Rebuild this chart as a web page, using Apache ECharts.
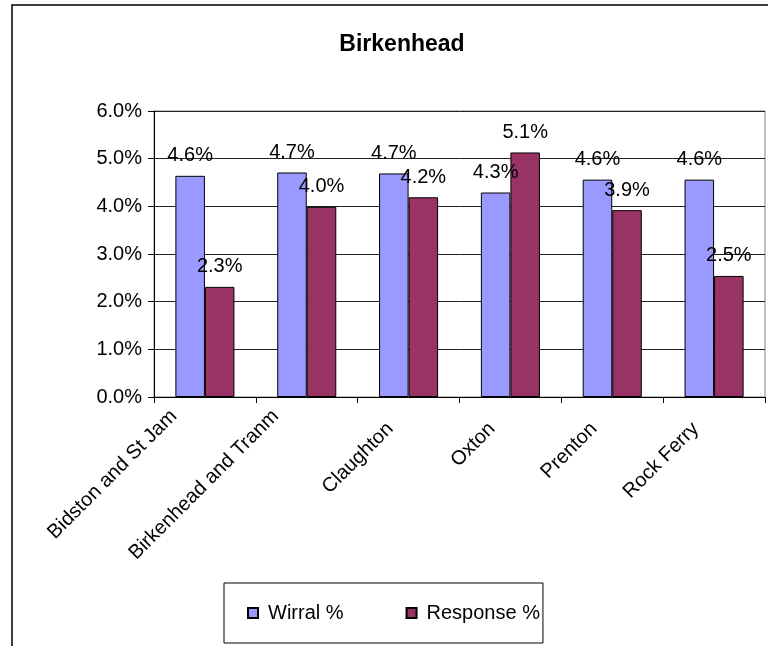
<!DOCTYPE html>
<html>
<head>
<meta charset="utf-8">
<script src="https://cdn.jsdelivr.net/npm/echarts@6/dist/echarts.min.js"></script>
<style>
html,body{margin:0;padding:0;background:#fff;}
#chart{width:768px;height:646px;}
</style>
</head>
<body>
<div id="chart"></div>
<script>
const categories = ['Bidston and St James', 'Birkenhead and Tranmere', 'Claughton', 'Oxton', 'Prenton', 'Rock Ferry'];
const tickLabels = ['Bidston and St Jam', 'Birkenhead and Tranm', 'Claughton', 'Oxton', 'Prenton', 'Rock Ferry'];
const wirral = [4.64, 4.71, 4.69, 4.29, 4.56, 4.56];
const response = [2.31, 3.99, 4.19, 5.13, 3.92, 2.54];
const yTicks = [0, 1, 2, 3, 4, 5, 6];

const FONT = '"Liberation Sans", Arial, sans-serif';
const chart = echarts.init(document.getElementById('chart'), null, {renderer: 'canvas'});

const labelStyle = {
  show: true,
  position: 'top',
  distance: 10,
  color: '#000',
  fontFamily: FONT,
  fontSize: 20,
  formatter: p => p.value.toFixed(1) + '%'
};

chart.setOption({
  animation: false,
  backgroundColor: '#fff',
  graphic: [{
    type: 'rect',
    shape: {x: 12, y: 5, width: 900, height: 800},
    style: {fill: 'none', stroke: '#000', lineWidth: 1.5},
    silent: true,
    z: 100
  }],
  title: {
    text: 'Birkenhead',
    left: 397,
    textAlign: 'center',
    top: 28,
    textStyle: {fontFamily: FONT, fontSize: 23, fontWeight: 'bold', color: '#000'}
  },
  legend: {
    data: ['Wirral %', 'Response %'],
    left: 224,
    top: 583,
    orient: 'horizontal',
    padding: [20, 3, 20, 23],
    itemGap: 62,
    itemWidth: 10,
    itemHeight: 10,
    icon: 'rect',
    borderColor: '#000',
    borderWidth: 1,
    textStyle: {fontFamily: FONT, fontSize: 20, color: '#000', padding: [0, 0, 0, 5]}
  },
  grid: {
    left: 154,
    right: 3,
    top: 111,
    bottom: 249,
    show: true,
    borderColor: '#808080',
    borderWidth: 1,
    containLabel: false
  },
  xAxis: {
    type: 'category',
    data: categories,
    axisLine: {show: true, lineStyle: {color: '#000', width: 1}},
    axisTick: {show: true, alignWithLabel: false, length: 6, lineStyle: {color: '#000'}},
    axisLabel: {
      interval: 0,
      rotate: 45,
      margin: -15,
      padding: [0, 44, 0, 0],
      color: '#000',
      fontFamily: FONT,
      fontSize: 20,
      formatter: (v, i) => tickLabels[i] === categories[i]
        ? '{s| }\n{t|' + tickLabels[i] + '}'
        : '{t|' + tickLabels[i] + '}',
      rich: {
        s: {fontSize: 1, lineHeight: 36},
        t: {fontFamily: FONT, fontSize: 20, color: '#000', lineHeight: 24}
      }
    },
    splitLine: {show: false}
  },
  yAxis: {
    type: 'value',
    min: yTicks[0],
    max: yTicks[yTicks.length - 1],
    interval: 1,
    axisLine: {show: true, lineStyle: {color: '#000', width: 1}},
    axisTick: {show: true, length: 6, lineStyle: {color: '#000'}},
    axisLabel: {
      margin: 12,
      color: '#000',
      fontFamily: FONT,
      fontSize: 20,
      formatter: v => v.toFixed(1) + '%'
    },
    splitLine: {show: true, lineStyle: {color: '#222', width: 1}}
  },
  series: [
    {
      name: 'Wirral %',
      type: 'bar',
      data: wirral,
      barGap: '0%',
      barCategoryGap: '42%',
      itemStyle: {color: '#9999FF', borderColor: '#000', borderWidth: 1},
      label: labelStyle
    },
    {
      name: 'Response %',
      type: 'bar',
      data: response,
      itemStyle: {color: '#993366', borderColor: '#000', borderWidth: 1},
      label: labelStyle
    }
  ]
});
</script>
</body>
</html>
